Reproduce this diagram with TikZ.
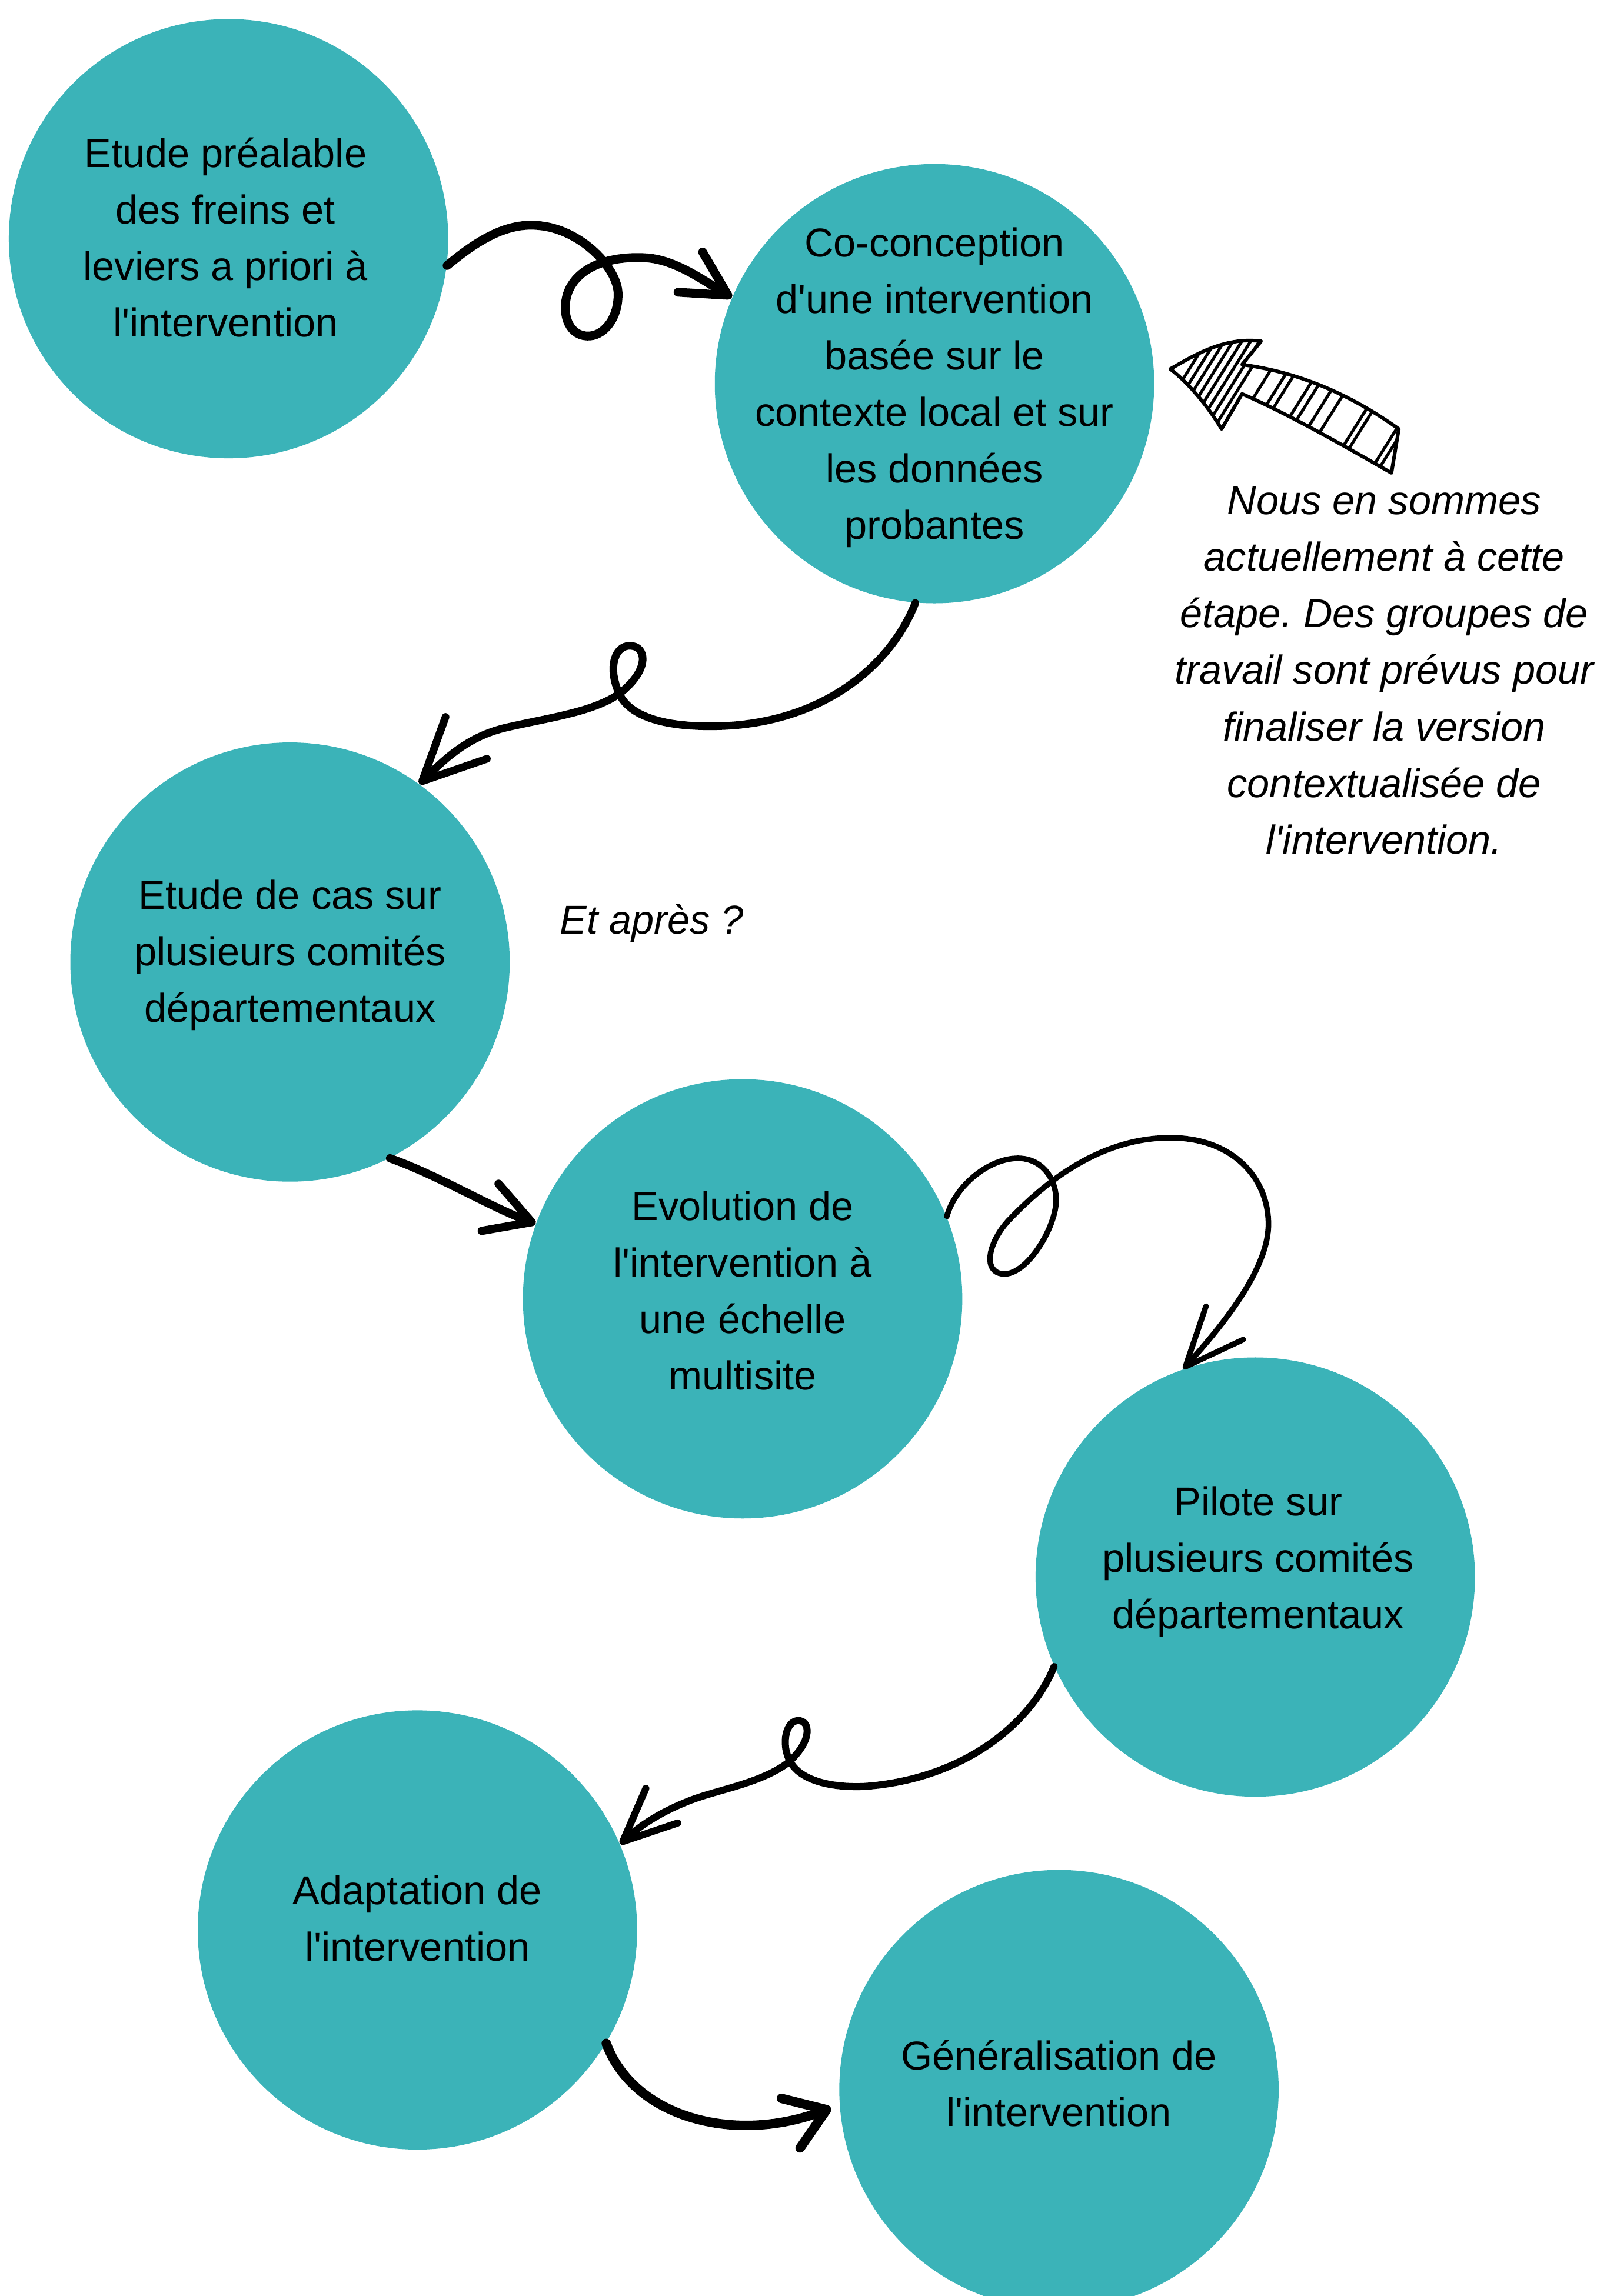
\documentclass[tikz,border=0pt]{standalone}
\usepackage{fontspec}
\setmainfont{Liberation Sans}[Ligatures=TeXOff]
\usetikzlibrary{arrows.meta}
\definecolor{stepteal}{HTML}{3BB3B8}
\frenchspacing

\begin{document}
\begin{tikzpicture}[x=0.4977pt,y=-0.4977pt,
    stepcircle/.style={circle,fill=stepteal,minimum size=149.3pt,inner sep=0pt},
    steptext/.style={align=center,font=\fontsize{13.7}{19.2}\selectfont},
    notetext/.style={align=center,font=\fontsize{13.7}{19.2}\selectfont\itshape},
    swirl/.style={line width=2.4pt,line cap=round,line join=round,-{Straight Barb[length=15pt,width=17pt,round]}}]
    \useasboundingbox (0,0) rectangle (1097,1568);

    % the steps
    \node[stepcircle] (etude) at (156,163) {};
    \node[stepcircle] (coconception) at (638,262) {};
    \node[stepcircle] (cas) at (198,657) {};
    \node[stepcircle] (evolution) at (507,887) {};
    \node[stepcircle] (pilote) at (857,1077) {};
    \node[stepcircle] (adaptation) at (285,1318) {};
    \node[stepcircle] (generalisation) at (723,1427) {};

    \node[steptext] (etude-t) at (154,164.3) {\strut Etude préalable\\des freins et\\leviers a priori à\\l'intervention\strut};
    \node[steptext] (coconception-t) at (638,264.1) {\strut Co-conception\\d'une intervention\\basée sur le\\contexte local et sur\\les données\\probantes\strut};
    \node[steptext] (cas-t) at (198,651.8) {\strut Etude de cas sur\\plusieurs comités\\départementaux\strut};
    \node[steptext] (evolution-t) at (507,883.6) {\strut Evolution de\\l'intervention à\\une échelle\\multisite\strut};
    \node[steptext] (pilote-t) at (859,1066.1) {\strut Pilote sur\\plusieurs comités\\départementaux\strut};
    \node[steptext] (adaptation-t) at (285,1312.1) {\strut Adaptation de\\l'intervention\strut};
    \node[steptext] (generalisation-t) at (723,1425.1) {\strut Généralisation de\\l'intervention\strut};

    % notes
    \node[notetext] (etape) at (945,459.5) {\strut Nous en sommes\\actuellement à cette\\étape. Des groupes de\\travail sont prévus pour\\finaliser la version\\contextualisée de\\l'intervention.\strut};
    \node[notetext] (apres) at (445,630.1) {\strut Et après ?\strut};

    % curly connectors
    \draw[swirl,line width=3pt,-{Straight Barb[length=15pt,width=16pt,round]}] (etude.-7)
        .. controls (325,165) and (345,152) .. (367,154)
        .. controls (396,156) and (422,183) .. (422,201)
        .. controls (422,219) and (411,230) .. (401,229.5)
        .. controls (387,229) and (383,212) .. (388,199)
        .. controls (396,180) and (420,175) .. (440,176)
        .. controls (460,177) and (478,190) .. (coconception.157);
    \draw[swirl,line width=2.6pt,-{Straight Barb[length=21pt,width=20pt,round]}] (coconception.-95)
        .. controls (608,455) and (560,496) .. (485,496)
        .. controls (450,496) and (428,488) .. (422,472)
        .. controls (415,455) and (420,441) .. (430,441)
        .. controls (441,441) and (444,456) .. (425,472)
        .. controls (408,486) and (375,490) .. (345,497)
        .. controls (320,503) and (305,517) .. (cas.54);
    \draw[swirl,line width=2.8pt] (cas.-63) .. controls (300,803) and (336,825) .. (evolution.160);
    \draw[swirl,line width=1.9pt,-{Straight Barb[length=20pt,width=17pt,round]}] (evolution.22)
        .. controls (652,810) and (675,791) .. (695,791)
        .. controls (712,791) and (722,806) .. (721,822)
        .. controls (719,842) and (700,871) .. (685,870)
        .. controls (670,869) and (675,847) .. (690,832)
        .. controls (715,806) and (752,777) .. (799,777)
        .. controls (842,777) and (866,805) .. (866,836)
        .. controls (866,868) and (832,908) .. (pilote.109);
    \draw[swirl,-{Straight Barb[length=18pt,width=16pt,round]}] (pilote.204)
        .. controls (705,1175) and (660,1215) .. (590,1220)
        .. controls (565,1221) and (545,1215) .. (539,1202)
        .. controls (533,1190) and (537,1175) .. (545,1175)
        .. controls (553,1175) and (555,1188) .. (539,1203)
        .. controls (520,1218) and (490,1222) .. (470,1230)
        .. controls (455,1236) and (440,1244) .. (adaptation.23);
    \draw[swirl,line width=3.2pt,shorten >=3pt,-{Straight Barb[length=13pt,width=18pt,round]}] (adaptation.-31)
        .. controls (432,1445) and (500,1465) .. (generalisation.184);

    % hatched pointer
    \begin{scope}
        \clip (799,252) .. controls (815,243) and (835,230) .. (861,233) -- (848,249)
            .. controls (885,254) and (920,268) .. (955,293) -- (950,323)
            .. controls (915,303) and (880,283) .. (848,269) -- (834,293)
            .. controls (825,278) and (812,262) .. cycle;
        \foreach \x in {807,813,819,825,831,837,843,849,863,875,881,896,902,913,923,945,950,974,979}
            \draw[line width=1pt] (\x-37.5,320) -- (\x+18.75,230);
    \end{scope}
    \draw[line width=1.2pt,line join=round] (799,252) .. controls (815,243) and (835,230) .. (861,233) -- (848,249)
        .. controls (885,254) and (920,268) .. (955,293) -- (950,323)
        .. controls (915,303) and (880,283) .. (848,269) -- (834,293)
        .. controls (825,278) and (812,262) .. cycle;
\end{tikzpicture}
\end{document}
